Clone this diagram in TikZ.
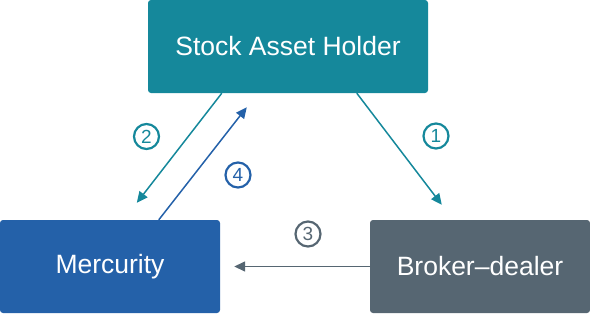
\documentclass[tikz,border=0pt]{standalone}
\usepackage{fontspec}
\setmainfont{Liberation Sans}
\usetikzlibrary{arrows.meta}
\definecolor{tealc}{HTML}{15889B}
\definecolor{bluec}{HTML}{2461A9}
\definecolor{grayc}{HTML}{566672}
\tikzset{
  party/.style={fill=#1, draw=none, rounded corners=3pt, text=white,
    minimum height=93pt, inner sep=0pt, font=\fontsize{26.5}{30}\selectfont},
  flow/.style={draw=#1, line width=1.5pt,
    -{Triangle[length=11pt,width=10pt]}},
  num/.style={circle, draw=#1, text=#1, line width=2.2pt, minimum size=25pt,
    inner sep=0pt, font=\fontsize{19}{19}\selectfont}
}
\begin{document}
\begin{tikzpicture}[x=1pt,y=-1pt]
  \useasboundingbox (0,0) rectangle (590,314);
  % parties
  \node[party=tealc, minimum width=280pt] (holder) at (288,46.5) {Stock Asset Holder};
  \node[party=bluec, minimum width=220pt] (merc) at (110,266.5) {Mercurity};
  \node[party=grayc, minimum width=220pt] (broker) at (480,266.5) {Broker--dealer};
  % free arrow ends
  \coordinate (e1) at ([xshift=72pt,yshift=15pt]broker.north west);
  \coordinate (e2) at ([xshift=137pt,yshift=17pt]merc.north west);
  \coordinate (e4) at ([xshift=99pt,yshift=-14pt]holder.south west);
  \coordinate (e3) at ([xshift=14pt]merc.east);
  % flows
  \draw[flow=tealc] ([xshift=209pt]holder.south west) -- (e1);
  \draw[flow=tealc] ([xshift=74pt]holder.south west) -- (e2);
  \draw[flow=bluec] ([xshift=159pt]merc.north west) -- (e4);
  \draw[flow=grayc] (broker.west) -- (e3);
  % step numbers
  \node[num=tealc] (n1) at (436,136) {1};
  \node[num=tealc] (n2) at (146.5,136.5) {2};
  \node[num=grayc] (n3) at (308,234) {3};
  \node[num=bluec] (n4) at (238,175) {4};
\end{tikzpicture}
\end{document}
